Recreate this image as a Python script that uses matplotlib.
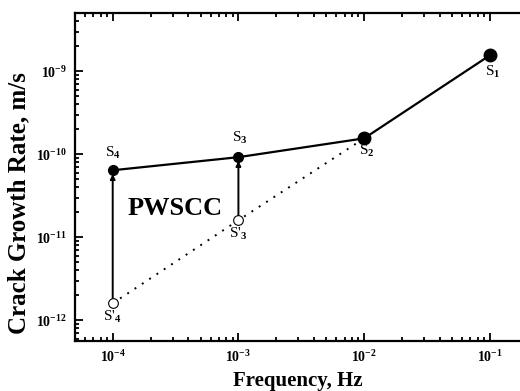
import matplotlib
matplotlib.use("Agg")
import matplotlib.pyplot as plt
from matplotlib.ticker import LogLocator, FixedLocator, FixedFormatter, NullFormatter

plt.rcParams['font.family'] = ['Liberation Serif', 'DejaVu Serif']
plt.rcParams['mathtext.fontset'] = 'custom'
plt.rcParams['mathtext.rm'] = 'Liberation Serif:bold'
plt.rcParams['mathtext.it'] = 'Liberation Serif:bold'
plt.rcParams['mathtext.bf'] = 'Liberation Serif:bold'

# data
freq_solid = [1e-4, 1e-3, 1e-2, 1e-1]
rate_solid = [6.4e-11, 9.2e-11, 1.55e-10, 1.55e-9]
freq_dot = [1e-4, 1e-3, 1e-2]
rate_dot = [1.6e-12, 1.6e-11, 1.55e-10]
labels_solid = ['S$_4$', 'S$_3$', 'S$_2$', 'S$_1$']
labels_dot = ["S'$_4$", "S'$_3$"]
xticks = [1e-4, 1e-3, 1e-2, 1e-1]
xticklabels = ['$10^{-4}$', '$10^{-3}$', '$10^{-2}$', '$10^{-1}$']
yticks = [1e-12, 1e-11, 1e-10, 1e-9]
yticklabels = ['$10^{-12}$', '$10^{-11}$', '$10^{-10}$', '$10^{-9}$']

fig = plt.figure(figsize=(5.2, 3.91), dpi=100)
ax = fig.add_axes([75/520, 1-341/391, 445/520, 328/391])
ax.set_xscale('log')
ax.set_yscale('log')
ax.set_xlim(10**-4.30, 10**-0.76)
ax.set_ylim(10**-12.25, 10**-8.30)

# dotted line
ax.plot(freq_dot, rate_dot, color='black', linestyle=(0, (1, 3.5)), linewidth=1.4, zorder=2)
# arrows
for f, r0, r1 in zip(freq_dot[:2], rate_dot[:2], rate_solid[:2]):
    ax.annotate('', xy=(f, r1*0.9), xytext=(f, r0*1.12),
                arrowprops=dict(arrowstyle='-|>', color='black', lw=1.4,
                                mutation_scale=7, shrinkA=0, shrinkB=0), zorder=3)
# solid line
ax.plot(freq_solid, rate_solid, color='black', linewidth=1.6, zorder=3)
sizes = [7, 7, 9, 9]
for f, r, s in zip(freq_solid, rate_solid, sizes):
    ax.plot([f], [r], 'o', color='black', markersize=s, zorder=4)
ax.plot(freq_dot[:2], rate_dot[:2], 'o', markerfacecolor='white', markeredgecolor='black',
        markersize=7, markeredgewidth=0.8, linestyle='none', zorder=4)

fs = 11
ax.annotate(labels_solid[0], (freq_solid[0], rate_solid[0]), xytext=(0, 7),
            textcoords='offset points', ha='center', va='bottom', fontsize=fs)
ax.annotate(labels_solid[1], (freq_solid[1], rate_solid[1]), xytext=(1, 8),
            textcoords='offset points', ha='center', va='bottom', fontsize=fs)
ax.annotate(labels_solid[2], (freq_solid[2], rate_solid[2]), xytext=(2, -3),
            textcoords='offset points', ha='center', va='top', fontsize=fs)
ax.annotate(labels_solid[3], (freq_solid[3], rate_solid[3]), xytext=(2, -6),
            textcoords='offset points', ha='center', va='top', fontsize=fs)
ax.annotate(labels_dot[0], (freq_dot[0], rate_dot[0]), xytext=(0, -4),
            textcoords='offset points', ha='center', va='top', fontsize=fs)
ax.annotate(labels_dot[1], (freq_dot[1], rate_dot[1]), xytext=(0, -4),
            textcoords='offset points', ha='center', va='top', fontsize=fs)

ax.text(0.225, 0.405, 'PWSCC', transform=ax.transAxes, ha='center', va='center',
        fontsize=19, fontweight='bold')

ax.xaxis.set_major_locator(FixedLocator(xticks))
ax.xaxis.set_major_formatter(FixedFormatter(xticklabels))
ax.yaxis.set_major_locator(FixedLocator(yticks))
ax.yaxis.set_major_formatter(FixedFormatter(yticklabels))
ax.xaxis.set_minor_locator(LogLocator(base=10, subs=range(2, 10), numticks=20))
ax.yaxis.set_minor_locator(LogLocator(base=10, subs=range(2, 10), numticks=20))
ax.xaxis.set_minor_formatter(NullFormatter())
ax.yaxis.set_minor_formatter(NullFormatter())
ax.tick_params(which='both', direction='in', top=True, right=False, labelsize=10, width=1.3)
ax.tick_params(which='major', length=6, pad=6)
ax.tick_params(which='minor', length=3)
for side in ['left', 'bottom', 'top']:
    ax.spines[side].set_linewidth(1.6)
ax.spines['right'].set_visible(False)

ax.set_xlabel('Frequency, Hz', fontsize=15, fontweight='bold', labelpad=4)
ax.set_ylabel('Crack Growth Rate, m/s', fontsize=18, fontweight='bold')
ax.yaxis.set_label_coords(-0.10, 0.42)

fig.savefig('out.png', dpi=100)
